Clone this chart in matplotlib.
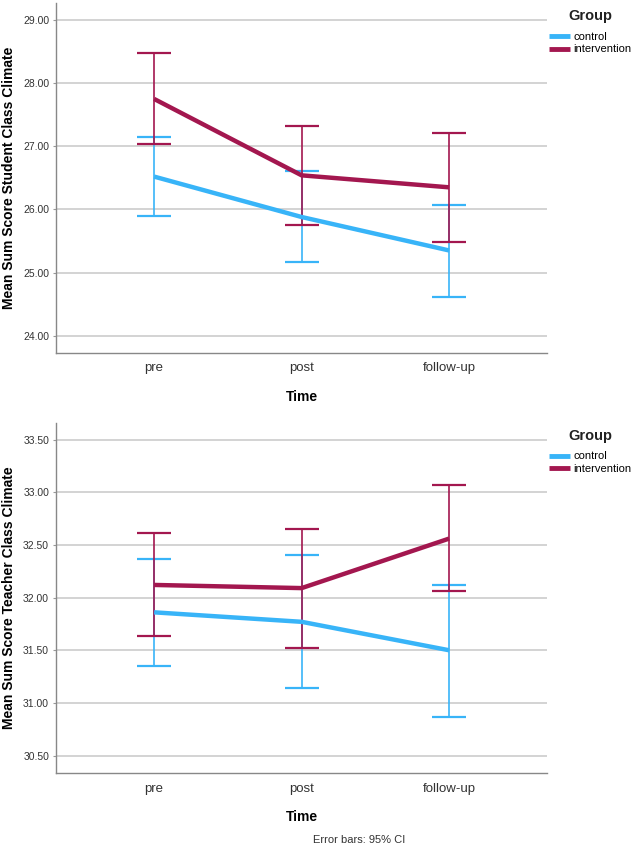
import matplotlib.pyplot as plt

# Data (means and 95% CI bounds)
times = ['pre', 'post', 'follow-up']
groups = ['control', 'intervention']

student_mean = {'control': [26.52, 25.88, 25.35], 'intervention': [27.75, 26.54, 26.35]}
student_lo = {'control': [25.89, 25.17, 24.61], 'intervention': [27.03, 25.75, 25.48]}
student_hi = {'control': [27.14, 26.61, 26.07], 'intervention': [28.48, 27.32, 27.21]}
student_ticks = [24.0, 25.0, 26.0, 27.0, 28.0, 29.0]

teacher_mean = {'control': [31.86, 31.77, 31.50], 'intervention': [32.12, 32.09, 32.56]}
teacher_lo = {'control': [31.35, 31.14, 30.87], 'intervention': [31.64, 31.52, 32.06]}
teacher_hi = {'control': [32.37, 32.40, 32.12], 'intervention': [32.61, 32.65, 33.07]}
teacher_ticks = [30.5, 31.0, 31.5, 32.0, 32.5, 33.0, 33.5]

colors = {'control': '#38B4F8', 'intervention': '#A3174F'}
text_gray = '#333333'

plt.rcParams['font.family'] = ['Liberation Sans', 'DejaVu Sans']

fig = plt.figure(figsize=(6.33, 8.5), dpi=100)
ax1 = fig.add_axes([0.0885, 0.585, 0.776, 0.4115])
ax2 = fig.add_axes([0.0885, 0.0906, 0.776, 0.4121])


def draw_panel(ax, mean, lo, hi, ticks, ylim, ylabel):
    x = list(range(len(times)))
    for g in groups:
        err = [[m - l for m, l in zip(mean[g], lo[g])],
               [h - m for m, h in zip(mean[g], hi[g])]]
        ax.errorbar(x, mean[g], yerr=err, fmt='none', ecolor=colors[g],
                    elinewidth=1.2, capsize=12, capthick=1.6, zorder=3)
    for g in groups:
        ax.plot(x, mean[g], color=colors[g], lw=3.2, label=g, zorder=4,
                solid_capstyle='butt')
    ax.set_xlim(-0.665, 2.665)
    ax.set_ylim(*ylim)
    ax.set_xticks(x)
    ax.set_xticklabels(times, fontsize=9.5, color=text_gray)
    ax.set_yticks(ticks)
    ax.set_yticklabels([f'{t:.2f}' for t in ticks], fontsize=7.5, color=text_gray)
    ax.tick_params(axis='x', length=0, pad=7)
    ax.tick_params(axis='y', length=2, color='#999999', pad=3)
    ax.grid(axis='y', color='#cccccc', lw=1.2, zorder=0)
    ax.set_axisbelow(True)
    for side in ['top', 'right']:
        ax.spines[side].set_visible(False)
    for side in ['left', 'bottom']:
        ax.spines[side].set_color('#888888')
        ax.spines[side].set_linewidth(1.0)
    ax.set_xlabel('Time', fontsize=10, fontweight='bold', labelpad=11)
    ax.set_ylabel(ylabel, fontsize=10, fontweight='bold')
    ax.yaxis.set_label_coords(-0.081, 0.5)
    leg = ax.legend(loc='upper left', bbox_to_anchor=(1.004, 0.918), frameon=False,
                    fontsize=8, handlelength=1.9, handletextpad=0.25,
                    labelspacing=0.25, borderaxespad=0, borderpad=0)
    for line in leg.get_lines():
        line.set_linewidth(3.5)
    ax.text(1.0876, 0.963, 'Group', transform=ax.transAxes, ha='center', va='center',
            fontsize=10.5, fontweight='bold', color='#222222')


draw_panel(ax1, student_mean, student_lo, student_hi, student_ticks,
           (23.73, 29.27), 'Mean Sum Score Student Class Climate')
draw_panel(ax2, teacher_mean, teacher_lo, teacher_hi, teacher_ticks,
           (30.335, 33.66), 'Mean Sum Score Teacher Class Climate')

fig.text(0.494, 0.008, 'Error bars: 95% CI', fontsize=8, color=text_gray)

fig.savefig('out.png', dpi=100)
